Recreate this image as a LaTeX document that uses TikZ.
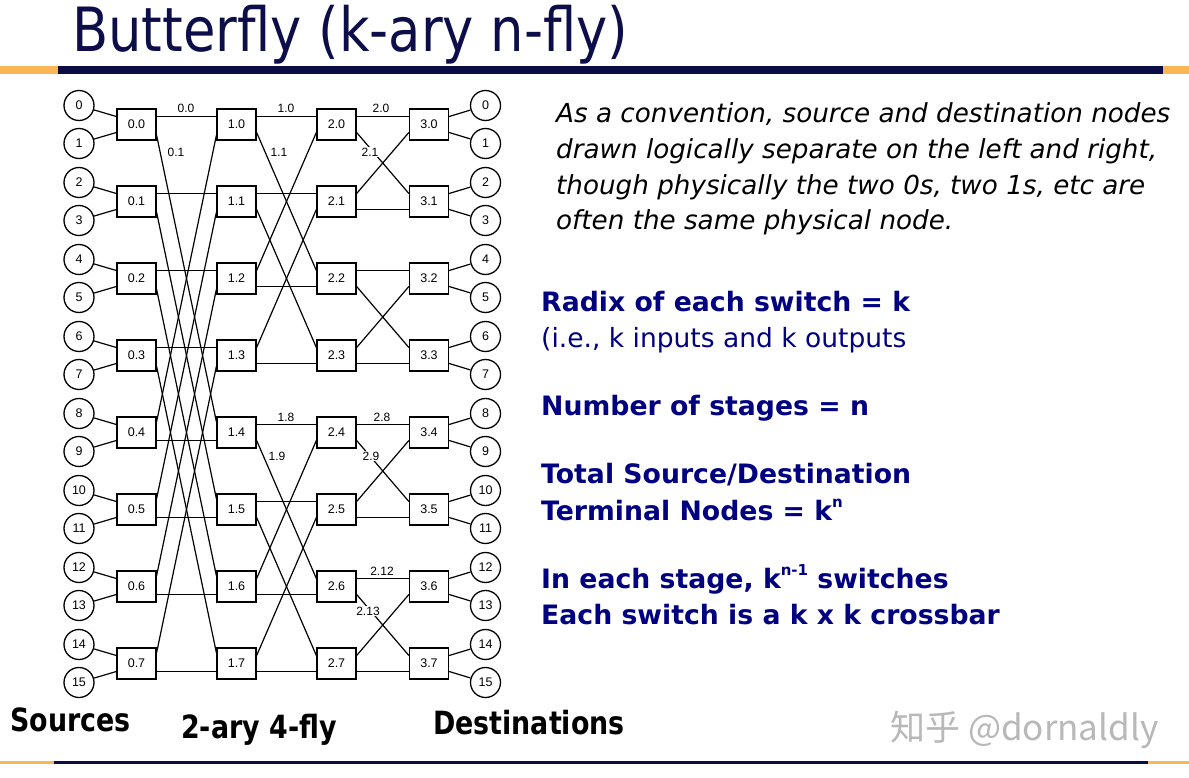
\documentclass[tikz,border=0pt]{standalone}
\usepackage{fontspec}
\usepackage{graphicx}
\setmainfont{DejaVu Sans}
\newfontfamily\helv{Liberation Sans}
\newfontfamily\cjk{Noto Sans CJK SC}
\usetikzlibrary{calc}
\definecolor{barnavy}{HTML}{0B0B45}
\definecolor{titlenavy}{HTML}{0D0D4A}
\definecolor{txtnavy}{HTML}{000080}
\definecolor{barorange}{HTML}{FBB655}
\definecolor{wmgray}{HTML}{B8B8B8}
\tikzset{
  term/.style={circle, draw, line width=1.3pt, minimum size=30pt, inner sep=0pt, font=\helv\fontsize{12.5}{12.5}\selectfont},
  swbox/.style={rectangle, draw, line width=1.3pt, minimum width=39pt, minimum height=31pt, inner sep=0pt, font=\helv\fontsize{12.5}{12.5}\selectfont},
  link/.style={line width=1.2pt},
  lnklabel/.style={inner sep=1pt, fill=white, font=\helv\fontsize{12}{12}\selectfont},
  italictxt/.style={anchor=base west, inner sep=0pt, font=\itshape\fontsize{26.2}{26.2}\selectfont},
  boldtxt/.style={anchor=base west, inner sep=0pt, text=txtnavy, font=\bfseries\fontsize{26.7}{26.7}\selectfont},
  plaintxt/.style={anchor=base west, inner sep=0pt, text=txtnavy, font=\fontsize{26.5}{26.5}\selectfont},
  bottomlbl/.style={anchor=base west, inner sep=0pt, font=\bfseries\fontsize{32}{32}\selectfont},
}
\begin{document}
\begin{tikzpicture}[x=1pt,y=-1pt]
\useasboundingbox (0,0) rectangle (1189,778);
% title and rules
\node[anchor=base west, inner sep=0pt, text=titlenavy, font=\fontsize{61}{61}\selectfont] (title) at (72,52) {\scalebox{0.865}[1]{Butterfly (k-ary n-fly)}};
\fill[barorange] (0,66) rectangle (58,74);
\fill[barnavy] (58,66) rectangle (1163,74);
\fill[barorange] (1163,66) rectangle (1189,74);
\fill[barorange] (0,761) rectangle (54,764);
\fill[barnavy] (54,761) rectangle (1148,764);
\fill[barorange] (1148,761) rectangle (1189,764);
% switches
\foreach \s/\x in {0/136.5,1/236.5,2/336.5,3/429}{
  \foreach \r in {0,...,7}{
    \node[swbox] (w\s-\r) at (\x,{124.5+77*\r}) {\s.\r};
  }
}
% terminals
\foreach \t in {0,...,15}{
  \pgfmathtruncatemacro\j{int(\t/2)}
  \pgfmathsetmacro\yy{124.5+77*\j-19+38*mod(\t,2)}
  \node[term] (src\t) at (79,\yy) {\t};
  \node[term] (dst\t) at (485.5,\yy) {\t};
  \pgfmathsetmacro\sh{8-16*mod(\t,2)}
  \draw[link] (src\t) -- ([yshift=\sh pt]w0-\j.west);
  \draw[link] (dst\t) -- ([yshift=\sh pt]w3-\j.east);
}
% butterfly links
\foreach \s/\t/\d/\c/\lst in {0/1/4/11/{0,1,2,3}, 1/2/2/8/{0,1,4,5}, 2/3/1/8/{0,2,4,6}}{
  \foreach \i in \lst {
    \pgfmathtruncatemacro\j{\i+\d}
    \draw[link] ([yshift=8pt]w\s-\i.east) -- ([yshift=8pt]w\t-\i.west);
    \draw[link] ([yshift=-8pt]w\s-\j.east) -- ([yshift=-8pt]w\t-\j.west);
    \draw[link] ([yshift=-\c pt]w\s-\i.east) -- ([yshift=\c pt]w\t-\j.west);
    \draw[link] ([yshift=\c pt]w\s-\j.east) -- ([yshift=-\c pt]w\t-\i.west);
  }
}
% link labels
\node[lnklabel] (l00) at (186,108) {0.0};
\node[lnklabel] (l01) at (176,152) {0.1};
\node[lnklabel] (l10) at (286,108) {1.0};
\node[lnklabel] (l11) at (279,152) {1.1};
\node[lnklabel] (l20) at (381,108) {2.0};
\node[lnklabel] (l21) at (370,152) {2.1};
\node[lnklabel] (l18) at (286,417) {1.8};
\node[lnklabel] (l19) at (277,456) {1.9};
\node[lnklabel] (l28) at (382,417) {2.8};
\node[lnklabel] (l29) at (371,456) {2.9};
\node[lnklabel] (l212) at (382,571) {2.12};
\node[lnklabel] (l213) at (368,611) {2.13};
% bottom labels
\node[bottomlbl] (srcl) at (10,731) {\scalebox{0.84}[1]{Sources}};
\node[bottomlbl] (flyl) at (181,738) {\scalebox{0.84}[1]{2-ary 4-fly}};
\node[bottomlbl] (dstl) at (433,734) {\scalebox{0.84}[1]{Destinations}};
% right text
\node[italictxt] (it1) at (556,123) {As a convention, source and destination nodes};
\node[italictxt] (it2) at (556,159) {drawn logically separate on the left and right,};
\node[italictxt] (it3) at (556,195) {though physically the two 0s, two 1s, etc are};
\node[italictxt] (it4) at (556,230) {often the same physical node.};
\node[boldtxt] (b1) at (541,311) {Radix of each switch = k};
\node[plaintxt] (b2) at (541,347) {(i.e., k inputs and k outputs};
\node[boldtxt] (b3) at (541,415) {Number of stages = n};
\node[boldtxt] (b4) at (541,483) {Total Source/Destination};
\node[boldtxt] (b5) at (541,520) {Terminal Nodes = k\raisebox{0.45em}{\fontsize{15}{15}\selectfont n}};
\node[boldtxt] (b6) at (541,588) {In each stage, k\raisebox{0.45em}{\fontsize{15}{15}\selectfont n-1} switches};
\node[boldtxt] (b7) at (541,624) {Each switch is a k x k crossbar};
% watermark
\node[anchor=base west, inner sep=0pt, text=wmgray, font=\cjk\fontsize{35}{35}\selectfont] (wm) at (890,740) {知乎 @dornaldly};
\end{tikzpicture}
\end{document}
